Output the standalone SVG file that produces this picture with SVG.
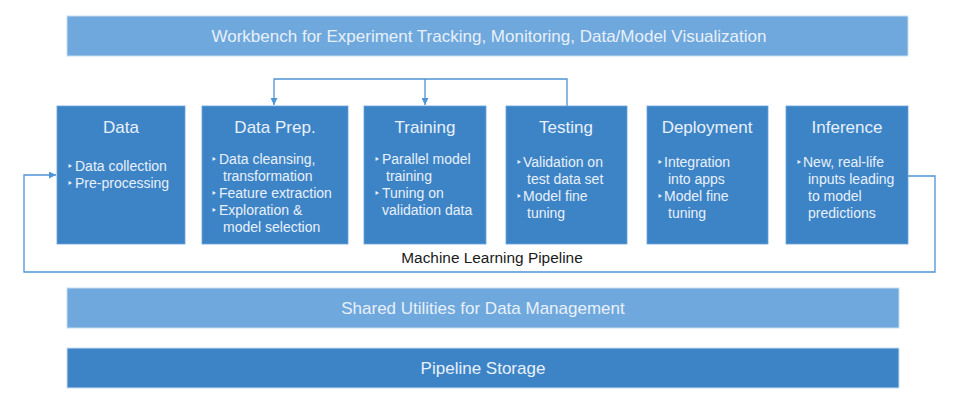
<svg xmlns="http://www.w3.org/2000/svg" width="956" height="407" viewBox="0 0 956 407">
<defs>
<marker id="arr" viewBox="0 0 10 10" refX="10" refY="5" markerWidth="7" markerHeight="7" markerUnits="userSpaceOnUse" orient="auto">
<path d="M0,0 L10,5 L0,10 z" fill="#4f94d4"/>
</marker>
<style>
.bar{stroke:#c9def2;stroke-width:1}
.light{fill:#6fa8dc}
.dark{fill:#3d84c6}
.box{fill:#3d84c6;stroke:#6aa3da;stroke-width:0.8}
.bt{font-family:"Liberation Sans",Arial,sans-serif;font-size:17px;fill:#e8f0fa;text-anchor:middle}
.title{font-family:"Liberation Sans",Arial,sans-serif;font-size:17px;fill:#e8f0fa;text-anchor:middle}
.it{font-family:"Liberation Sans",Arial,sans-serif;font-size:14px;fill:#e8f0fa}
.bu{font-family:"DejaVu Sans",sans-serif;font-size:10px;fill:#e8f0fa}
.conn{fill:none;stroke:#4f94d4;stroke-width:1.3}
.lbl{font-family:"Liberation Sans",Arial,sans-serif;font-size:15.4px;fill:#1a1a1a;text-anchor:middle}
</style>
</defs>
<rect width="956" height="407" fill="#ffffff"/>

<g id="workbench">
<rect class="bar light" x="67" y="16" width="841" height="40"/>
<text class="bt" x="489" y="42">Workbench for Experiment Tracking, Monitoring, Data/Model Visualization</text>
</g>

<g id="connectors">
<path class="conn" d="M567,106 V79 H274 V105" marker-end="url(#arr)"/>
<path class="conn" d="M425,79 V105" marker-end="url(#arr)"/>
<path class="conn" d="M908,176 H935 V272 H24 V175 H56" marker-end="url(#arr)"/>
</g>

<g id="data">
<rect class="box" x="57" y="106" width="128" height="138"/>
<text class="title" x="121" y="133">Data</text>
<text class="bu" x="67" y="170">‣</text><text class="it" x="75" y="171">Data collection</text>
<text class="bu" x="67" y="187">‣</text><text class="it" x="75" y="188">Pre-processing</text>
</g>

<g id="dataprep">
<rect class="box" x="202" y="106" width="146" height="138"/>
<text class="title" x="275" y="133">Data Prep.</text>
<text class="bu" x="211" y="163">‣</text><text class="it" x="219" y="164">Data cleansing,</text>
<text class="it" x="223" y="181">transformation</text>
<text class="bu" x="211" y="197">‣</text><text class="it" x="219" y="198">Feature extraction</text>
<text class="bu" x="211" y="214">‣</text><text class="it" x="219" y="215">Exploration &amp;</text>
<text class="it" x="223" y="232">model selection</text>
</g>

<g id="training">
<rect class="box" x="364" y="106" width="122" height="138"/>
<text class="title" x="425" y="133">Training</text>
<text class="bu" x="374" y="163">‣</text><text class="it" x="382" y="164">Parallel model</text>
<text class="it" x="386" y="181">training</text>
<text class="bu" x="374" y="197">‣</text><text class="it" x="382" y="198">Tuning on</text>
<text class="it" x="382" y="215">validation data</text>
</g>

<g id="testing">
<rect class="box" x="506" y="106" width="121" height="138"/>
<text class="title" x="566" y="133">Testing</text>
<text class="bu" x="516" y="166">‣</text><text class="it" x="523" y="167">Validation on</text>
<text class="it" x="527" y="184">test data set</text>
<text class="bu" x="516" y="200">‣</text><text class="it" x="523" y="201">Model fine</text>
<text class="it" x="527" y="218">tuning</text>
</g>

<g id="deployment">
<rect class="box" x="647" y="106" width="121" height="138"/>
<text class="title" x="707" y="133">Deployment</text>
<text class="bu" x="657" y="166">‣</text><text class="it" x="664" y="167">Integration</text>
<text class="it" x="668" y="184">into apps</text>
<text class="bu" x="657" y="200">‣</text><text class="it" x="664" y="201">Model fine</text>
<text class="it" x="668" y="218">tuning</text>
</g>

<g id="inference">
<rect class="box" x="786" y="106" width="122" height="138"/>
<text class="title" x="847" y="133">Inference</text>
<text class="bu" x="796" y="166">‣</text><text class="it" x="803" y="167">New, real-life</text>
<text class="it" x="808" y="184">inputs leading</text>
<text class="it" x="808" y="201">to model</text>
<text class="it" x="808" y="218">predictions</text>
</g>

<g id="pipeline-label">
<text class="lbl" x="492" y="263">Machine Learning Pipeline</text>
</g>

<g id="shared">
<rect class="bar light" x="67" y="288" width="832" height="40"/>
<text class="bt" x="483" y="314">Shared Utilities for Data Management</text>
</g>

<g id="storage">
<rect class="bar dark" x="67" y="348" width="832" height="40"/>
<text class="bt" x="483" y="374">Pipeline Storage</text>
</g>
</svg>
